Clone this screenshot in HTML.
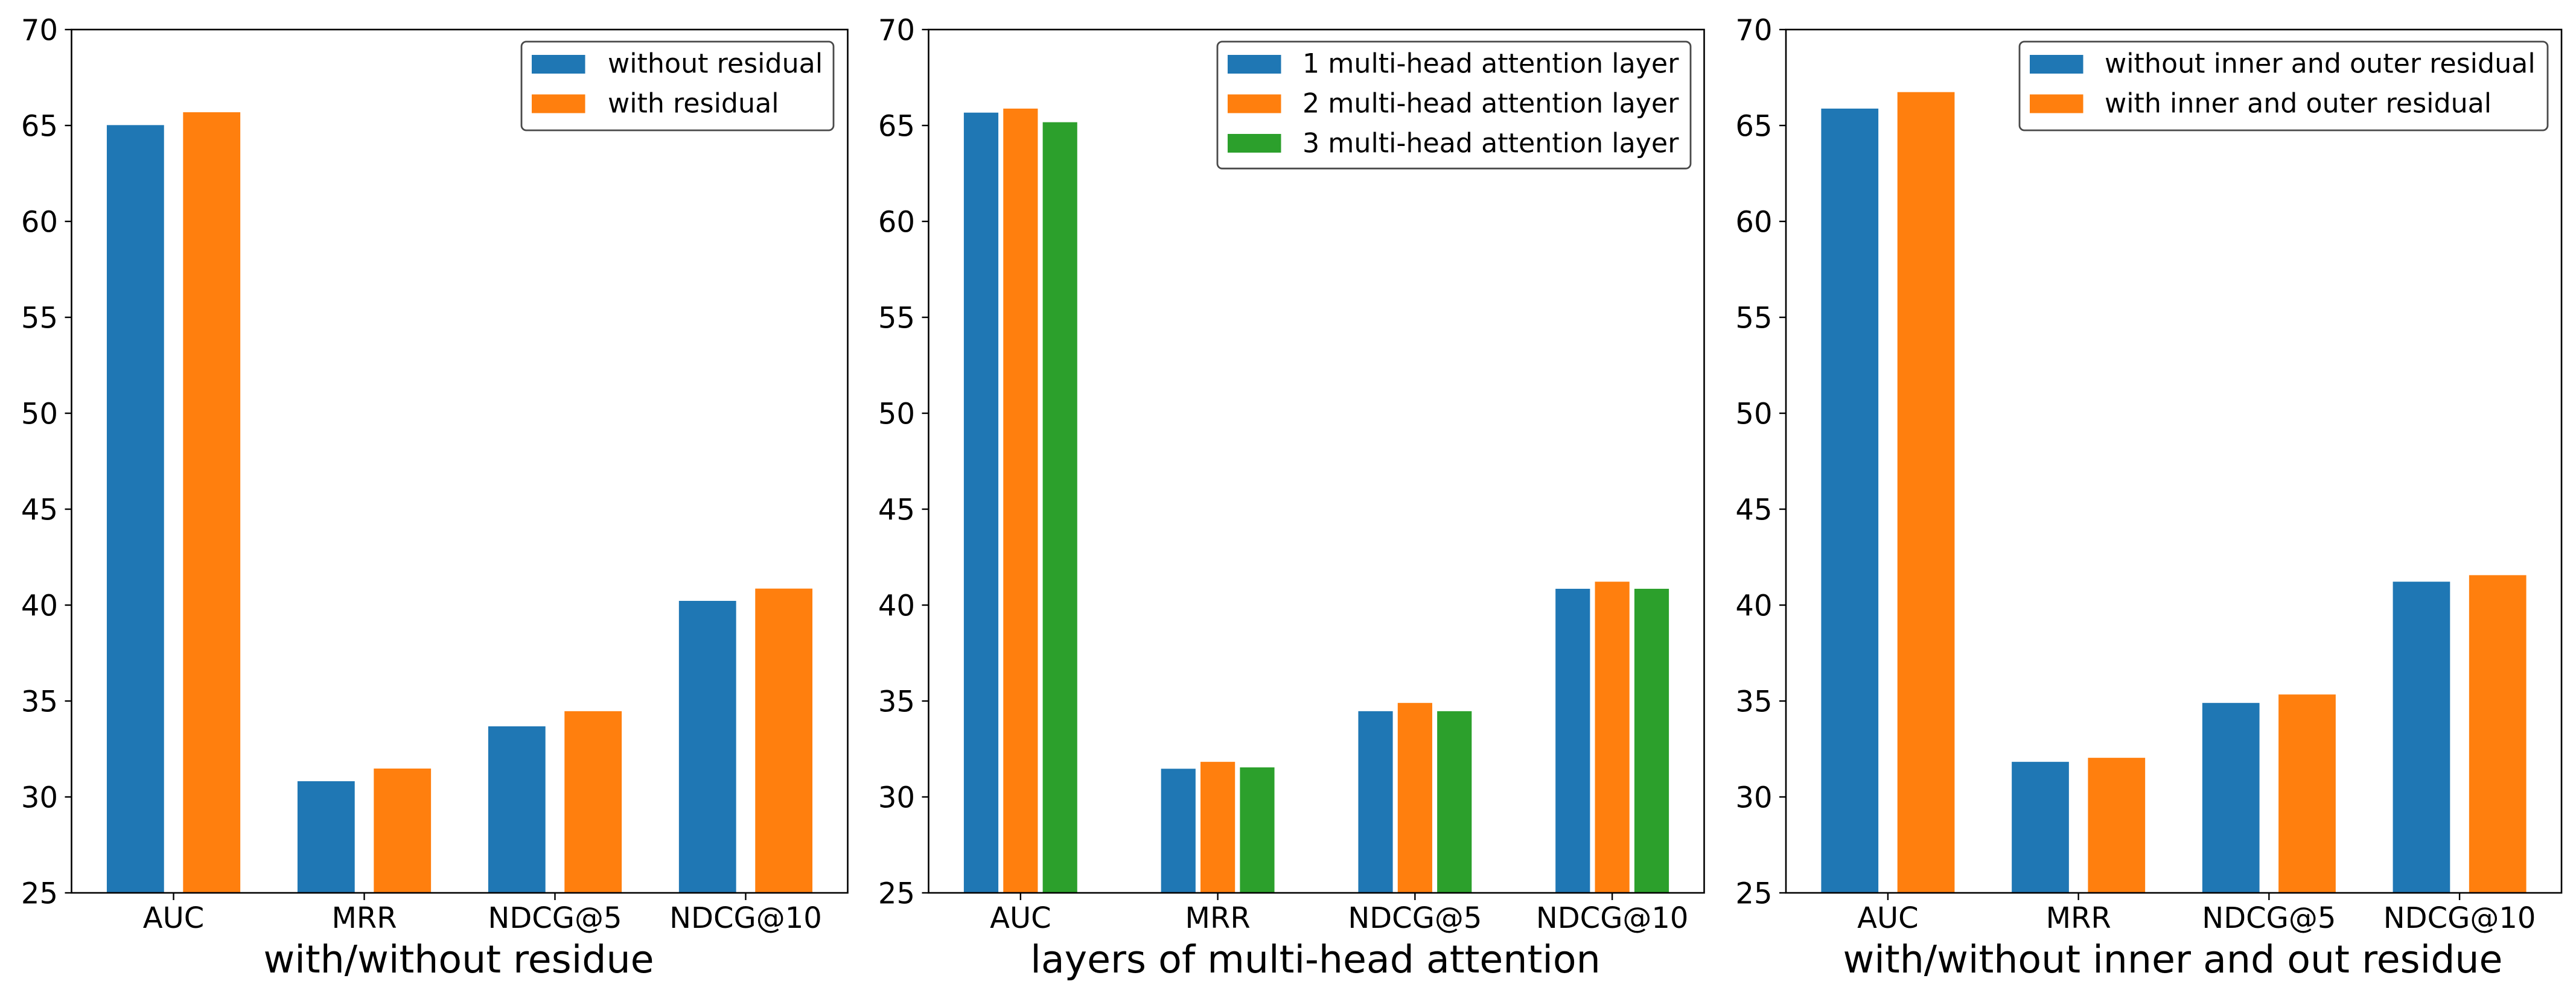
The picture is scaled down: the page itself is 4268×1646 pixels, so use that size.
<!DOCTYPE html>
<html lang="en">
<head>
<meta charset="utf-8">
<title>Residual and attention layer comparison</title>
<style>
html,body{margin:0;padding:0;background:#fff;}
body{width:4268px;height:1646px;overflow:hidden;}
svg{display:block;}
text{font-family:"DejaVu Sans","Liberation Sans",sans-serif;fill:#000;}
</style>
</head>
<body>
<svg id="figure" xmlns="http://www.w3.org/2000/svg" width="4268" height="1646" viewBox="0 0 4268 1646"></svg>
<script>
const categories = ['AUC', 'MRR', 'NDCG@5', 'NDCG@10'];
const yTickValues = [25, 30, 35, 40, 45, 50, 55, 60, 65, 70];

const residualWithout = [65.02, 30.82, 33.68, 40.22];
const residualWith = [65.69, 31.48, 34.47, 40.86];

const layersOne = [65.67, 31.47, 34.47, 40.85];
const layersTwo = [65.88, 31.83, 34.90, 41.22];
const layersThree = [65.17, 31.54, 34.47, 40.85];

const innerOuterWithout = [65.88, 31.83, 34.90, 41.22];
const innerOuterWith = [66.74, 32.04, 35.34, 41.56];

const BLUE = '#1f77b4';
const ORANGE = '#ff7f0e';
const GREEN = '#2ca02c';
const AXIS_TOP = 49;
const AXIS_BOTTOM = 1480;
const Y_MIN = 25;
const Y_MAX = 70;
const SVG_NS = 'http://www.w3.org/2000/svg';
const figure = document.getElementById('figure');

function make(tag, attrs, parent, content) {
  const el = document.createElementNS(SVG_NS, tag);
  for (const key in attrs) el.setAttribute(key, attrs[key]);
  if (content !== undefined) el.textContent = content;
  parent.appendChild(el);
  return el;
}

function yScale(value) {
  return AXIS_BOTTOM - (value - Y_MIN) / (Y_MAX - Y_MIN) * (AXIS_BOTTOM - AXIS_TOP);
}

function drawPanel(opts) {
  const panel = make('g', {}, figure);
  
  

  const left = opts.left, right = opts.right;
  const groupSpan = opts.barWidth * opts.series.length + (opts.offset - opts.barWidth) * (opts.series.length - 1);
  const dataRange = (categories.length - 1) + groupSpan;
  const unit = (right - left) / (dataRange * 1.1);
  const firstCentre = left + dataRange * 0.05 * unit + groupSpan / 2 * unit;
  const xScale = function (position) { return firstCentre + position * unit; };

  opts.series.forEach(function (series, s) {
    const shift = (s - (opts.series.length - 1) / 2) * opts.offset;
    series.values.forEach(function (value, i) {
      const bar = make('rect', {
        x: xScale(i + shift - opts.barWidth / 2),
        y: yScale(value),
        width: opts.barWidth * unit,
        height: yScale(Y_MIN) - yScale(value),
        fill: series.color
      }, panel);
      
      
    });
  });

  yTickValues.forEach(function (tick) {
    const y = yScale(tick);
    const mark = make('line', { x1: left - 11, x2: left, y1: y, y2: y, stroke: '#000', 'stroke-width': 2.4 }, panel);
    
    
    const label = make('text', { x: left - 22.5, y: y + 17.5, 'text-anchor': 'end', 'font-size': 48 }, panel, String(tick));
    
    
  });

  categories.forEach(function (category, i) {
    const x = xScale(i);
    const mark = make('line', { x1: x, x2: x, y1: AXIS_BOTTOM, y2: AXIS_BOTTOM + 12, stroke: '#000', 'stroke-width': 2.4 }, panel);
    
    
    const label = make('text', { x: x, y: 1538, 'text-anchor': 'middle', 'font-size': 48 }, panel, category);
    
    
  });

  const frame = make('rect', {
    x: left, y: AXIS_TOP, width: right - left, height: AXIS_BOTTOM - AXIS_TOP,
    fill: 'none', stroke: '#000', 'stroke-width': 2.6
  }, panel);
  
  

  const title = make('text', { x: (left + right) / 2 - 1.5, y: 1612, 'text-anchor': 'middle', 'font-size': 63.3 }, panel, opts.title);
  
  

  const legend = make('g', {}, panel);
  
  
  const rowCount = opts.series.length;
  const box = make('rect', {
    x: opts.legendLeft, y: 69, width: opts.legendRight - opts.legendLeft, height: 147 + (rowCount - 2) * 63.3,
    rx: 8, ry: 8, fill: '#fff', stroke: '#4a4a4a', 'stroke-width': 2.8
  }, legend);
  
  
  opts.series.forEach(function (series, s) {
    const swatch = make('rect', {
      x: opts.legendLeft + 17, y: 91 + s * 65.5, width: 88.5, height: 31, fill: series.color
    }, legend);
    
    
    const text = make('text', {
      x: opts.legendTextX, y: 120.7 + s * 66, 'font-size': 44.3
    }, legend, series.label);
    
    
  });
}

drawPanel({
  name: 'residual',
  left: 118.5, right: 1404.5, barWidth: 0.3, offset: 0.4,
  legendLeft: 864, legendRight: 1381, legendTextX: 1007,
  title: 'with/without residue',
  series: [
    { key: 'without-residual', label: 'without residual', values: residualWithout, color: BLUE },
    { key: 'with-residual', label: 'with residual', values: residualWith, color: ORANGE }
  ]
});

drawPanel({
  name: 'attention-layers',
  left: 1538.5, right: 2823.5, barWidth: 0.175, offset: 0.2,
  legendLeft: 2017, legendRight: 2801, legendTextX: 2158,
  title: 'layers of multi-head attention',
  series: [
    { key: '1-layer', label: '1 multi-head attention layer', values: layersOne, color: BLUE },
    { key: '2-layers', label: '2 multi-head attention layer', values: layersTwo, color: ORANGE },
    { key: '3-layers', label: '3 multi-head attention layer', values: layersThree, color: GREEN }
  ]
});

drawPanel({
  name: 'inner-outer-residual',
  left: 2959, right: 4244, barWidth: 0.3, offset: 0.4,
  legendLeft: 3346, legendRight: 4221, legendTextX: 3487,
  title: 'with/without inner and out residue',
  series: [
    { key: 'without-inner-outer', label: 'without inner and outer residual', values: innerOuterWithout, color: BLUE },
    { key: 'with-inner-outer', label: 'with inner and outer residual', values: innerOuterWith, color: ORANGE }
  ]
});
</script>
</body>
</html>
